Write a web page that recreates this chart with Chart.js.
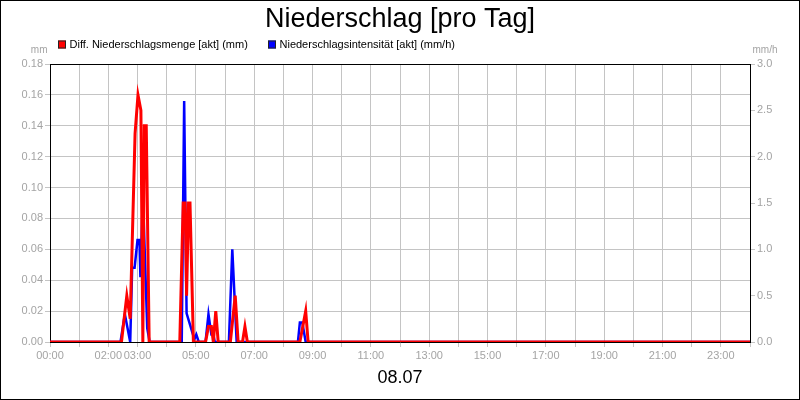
<!DOCTYPE html>
<html>
<head>
<meta charset="utf-8">
<script src="https://cdn.jsdelivr.net/npm/chart.js@4.4.0/dist/chart.umd.min.js"></script>
<style>
  html, body { margin: 0; padding: 0; background: #ffffff; }
  #wrap { width: 800px; height: 400px; position: relative; }
</style>
</head>
<body>
<div id="wrap"><canvas id="c" width="800" height="400"></canvas></div>
<script>
// ---- data (time in minutes since 00:00) ----
const chartTitle = 'Niederschlag [pro Tag]';
const dateLabel = '08.07';
const seriesNames = ['Diff. Niederschlagsmenge [akt] (mm)', 'Niederschlagsintensität [akt] (mm/h)'];
const unitLeft = 'mm';
const unitRight = 'mm/h';

const mengeTimes  = [0, 147, 158, 165, 175, 181, 187, 191, 194, 198, 204, 267, 274, 278, 281, 285, 288, 295, 320, 326, 332, 336, 341, 346, 371, 381, 387, 396, 401, 406, 514, 526, 531, 1440];
const mengeValues = [0, 0, 0.03, 0.015, 0.135, 0.16, 0.15, 0, 0.14, 0.14, 0, 0, 0.09, 0.09, 0.03, 0.09, 0.09, 0, 0, 0.01, 0.01, 0, 0.02, 0, 0, 0.03, 0, 0, 0.01, 0, 0, 0.02, 0, 0];

const intensTimes  = [0, 145, 154, 165, 169, 174, 180, 184, 186, 191, 200, 205, 271, 276, 281, 297, 301, 306, 320, 326, 332, 336, 339, 368, 375, 384, 510, 514, 519, 526, 1440];
const intensValues = [0, 0, 0.3, 0, 0.8, 0.8, 1.1, 1.1, 0.7, 1.6, 0.15, 0, 0, 2.6, 0.31, 0.03, 0.08, 0, 0, 0.3, 0.08, 0.08, 0, 0, 1.0, 0, 0, 0.21, 0.21, 0, 0];

const xTickLabels = ['00:00', '02:00', '03:00', '05:00', '07:00', '09:00', '11:00', '13:00', '15:00', '17:00', '19:00', '21:00', '23:00'];
const yLeftTicks = [0, 0.02, 0.04, 0.06, 0.08, 0.10, 0.12, 0.14, 0.16, 0.18];
const yRightTicks = [0, 0.5, 1.0, 1.5, 2.0, 2.5, 3.0];

const FONT = "'Liberation Sans', Arial, Helvetica, sans-serif";
const TICK_COLOR = '#a4a4a4';
const GRID_COLOR = '#c4c4c4';

Chart.defaults.font.family = FONT;

const toPoints = (ts, vs) => ts.map((t, i) => ({ x: t, y: vs[i] }));

const decorPlugin = {
  id: 'decor',
  beforeDatasetsDraw(chart) {
    const { ctx, chartArea } = chart;
    ctx.save();
    ctx.strokeStyle = '#000';
    ctx.lineWidth = 1;
    ctx.beginPath();
    ctx.moveTo(chartArea.left, chartArea.top + 0.5);
    ctx.lineTo(chartArea.right, chartArea.top + 0.5);
    ctx.stroke();
    ctx.restore();
  },
  afterDraw(chart) {
    const { ctx, chartArea } = chart;
    ctx.save();
    // legend
    ctx.font = '11px ' + FONT;
    ctx.textBaseline = 'middle';
    ctx.textAlign = 'left';
    const legendY = 44.5;
    const starts = [58, 268];
    chart.data.datasets.forEach((ds, i) => {
      const bx = starts[i];
      ctx.fillStyle = ds.borderColor;
      ctx.fillRect(bx, legendY - 4, 8, 8);
      ctx.strokeStyle = '#222';
      ctx.lineWidth = 1;
      ctx.strokeRect(bx + 0.5, legendY - 3.5, 7, 7);
      ctx.fillStyle = '#000';
      ctx.fillText(ds.label, bx + 11.5, legendY);
    });
    // unit labels
    ctx.font = '10px ' + FONT;
    ctx.fillStyle = TICK_COLOR;
    ctx.textAlign = 'right';
    ctx.fillText(unitLeft, chartArea.left - 2.5, 50);
    ctx.textAlign = 'left';
    ctx.fillText(unitRight, chartArea.right + 2.5, 50);
    // outer frame
    ctx.strokeStyle = '#000';
    ctx.lineWidth = 1;
    ctx.strokeRect(0.5, 0.5, chart.width - 1, chart.height - 1);
    ctx.restore();
  }
};

const labelHours = xTickLabels.map(l => parseInt(l.slice(0, 2), 10));

new Chart(document.getElementById('c'), {
  type: 'line',
  data: {
    datasets: [
      {
        label: seriesNames[0],
        data: toPoints(mengeTimes, mengeValues),
        borderColor: '#ff0000',
        backgroundColor: '#ff0000',
        borderWidth: 3,
        pointRadius: 0,
        tension: 0,
        yAxisID: 'y'
      },
      {
        label: seriesNames[1],
        data: toPoints(intensTimes, intensValues),
        borderColor: '#0000ff',
        backgroundColor: '#0000ff',
        borderWidth: 2.5,
        pointRadius: 0,
        tension: 0,
        yAxisID: 'y2'
      }
    ]
  },
  options: {
    responsive: false,
    animation: false,
    devicePixelRatio: 1,
    layout: { padding: 0 },
    plugins: {
      legend: { display: false },
      tooltip: { enabled: false },
      title: {
        display: true,
        text: chartTitle,
        color: '#000',
        font: { size: 27, weight: 'normal', family: FONT, lineHeight: 1.2 },
        padding: { top: 3, bottom: 28.6 }
      }
    },
    scales: {
      x: {
        type: 'linear',
        min: 0,
        max: 1440,
        afterFit(scale) { scale.height = 58; },
        ticks: {
          stepSize: 60,
          autoSkip: false,
          maxRotation: 0,
          minRotation: 0,
          padding: 2,
          color: TICK_COLOR,
          font: { size: 11 },
          callback(v) {
            const h = v / 60;
            const idx = labelHours.indexOf(h);
            return idx >= 0 ? xTickLabels[idx] : '';
          }
        },
        grid: { color: GRID_COLOR, tickLength: 5, lineWidth: 1 },
        border: { color: '#000', width: 1 },
        title: {
          display: true,
          text: dateLabel,
          color: '#000',
          font: { size: 18, lineHeight: 1.2 },
          padding: { top: 0, bottom: 11 }
        }
      },
      y: {
        position: 'left',
        min: 0,
        max: 0.18,
        afterFit(scale) { scale.width = 50; },
        afterBuildTicks(scale) { scale.ticks = yLeftTicks.map(v => ({ value: v })); },
        ticks: {
          padding: 2,
          color: TICK_COLOR,
          font: { size: 11 },
          callback(v) { return Number(v).toFixed(2); }
        },
        grid: { color: GRID_COLOR, tickLength: 5, lineWidth: 1 },
        border: { color: '#000', width: 1 }
      },
      y2: {
        position: 'right',
        min: 0,
        max: 3,
        afterFit(scale) { scale.width = 50; },
        afterBuildTicks(scale) { scale.ticks = yRightTicks.map(v => ({ value: v })); },
        ticks: {
          padding: 2,
          color: TICK_COLOR,
          font: { size: 11 },
          callback(v) { return Number(v).toFixed(1); }
        },
        grid: { drawOnChartArea: false, color: GRID_COLOR, tickLength: 5, lineWidth: 1 },
        border: { color: '#000', width: 1 }
      }
    }
  },
  plugins: [decorPlugin]
});
</script>
</body>
</html>
